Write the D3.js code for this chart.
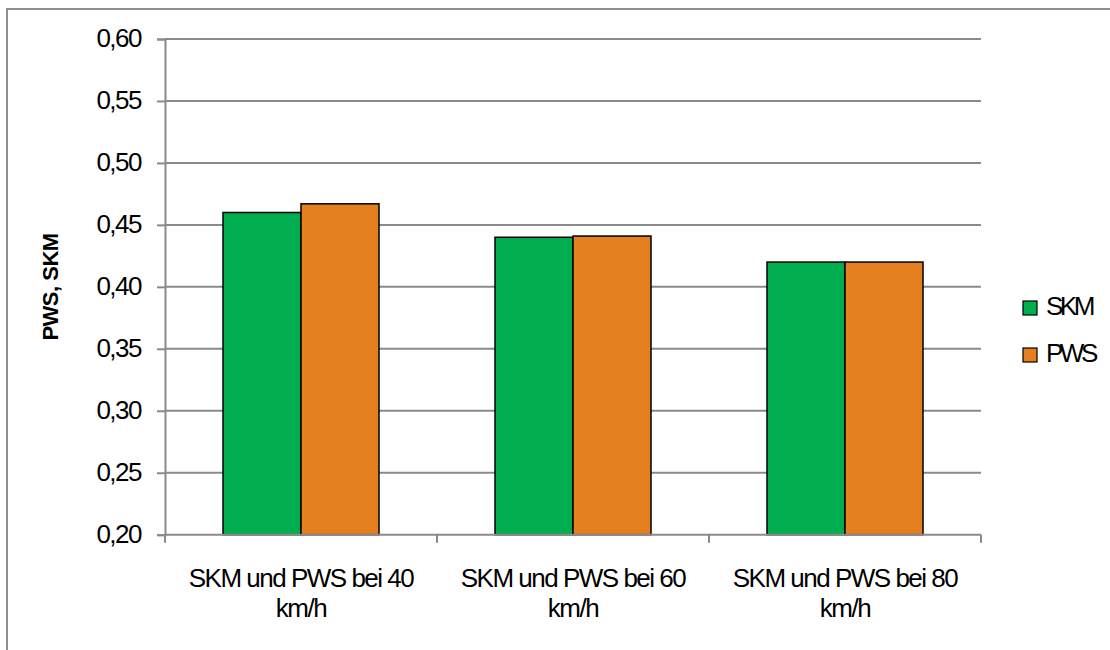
<!DOCTYPE html>
<html>
<head>
<meta charset="utf-8">
<script src="https://cdn.jsdelivr.net/npm/d3@7"></script>
<style>
  html, body { margin: 0; padding: 0; background: #fff; }
  svg { display: block; font-family: "Liberation Sans", Arial, sans-serif; }
</style>
</head>
<body>
<svg id="chart" width="1110" height="650"></svg>
<script>
// Categories (two-line labels) and series values
const categories = ["SKM und PWS bei 40 km/h", "SKM und PWS bei 60 km/h", "SKM und PWS bei 80 km/h"];
const categoryLines = [["SKM und PWS bei 40", "km/h"], ["SKM und PWS bei 60", "km/h"], ["SKM und PWS bei 80", "km/h"]];
const seriesNames = ["SKM", "PWS"];
const skmValues = [0.46, 0.44, 0.42];
const pwsValues = [0.467, 0.441, 0.42];
const yTicks = [0.20, 0.25, 0.30, 0.35, 0.40, 0.45, 0.50, 0.55, 0.60];
const colors = ["#00ae50", "#e4801f"];

const svg = d3.select("#chart");

// outer frame (only top and left edges are inside the canvas)
svg.append("rect")
  .attr("x", 7).attr("y", 9).attr("width", 1200).attr("height", 800)
  .attr("fill", "none").attr("stroke", "#8e8e8e").attr("stroke-width", 2);

const plot = { left: 165, right: 981, top: 39, bottom: 534.7 };

const y = d3.scaleLinear().domain([0.20, 0.60]).range([plot.bottom, plot.top]);
const x0 = d3.scaleBand().domain(categories).range([plot.left, plot.right]).paddingInner(0).paddingOuter(0);
const barW = 78;
const x1 = d3.scaleBand().domain(seriesNames).range([0, barW * 2]);

const fmt = v => d3.format(".2f")(v).replace(".", ",");

// horizontal gridlines
svg.append("g").selectAll("line").data(yTicks.filter(t => t > 0.2)).join("line")
  .attr("x1", plot.left).attr("x2", plot.right)
  .attr("y1", d => y(d)).attr("y2", d => y(d))
  .attr("stroke", "#8a8a8a").attr("stroke-width", 2);

// y axis
const yAxis = svg.append("g").attr("transform", `translate(${plot.left},0)`)
  .call(d3.axisLeft(y).tickValues(yTicks).tickFormat(fmt).tickSize(8).tickPadding(16));
yAxis.attr("font-size", null).attr("font-family", null);
yAxis.select(".domain").attr("stroke", "#8a8a8a").attr("stroke-width", 2);
yAxis.selectAll(".tick line").attr("stroke", "#8a8a8a").attr("stroke-width", 2);
yAxis.selectAll(".tick text")
  .attr("font-size", 26).attr("letter-spacing", -1.5).attr("fill", "#000")
  .attr("dy", "0.3em");

// bars
const groups = svg.append("g").selectAll("g").data(categories).join("g")
  .attr("transform", d => `translate(${x0(d) + x0.bandwidth() / 2 - barW},0)`);
groups.selectAll("rect")
  .data((d, i) => [skmValues[i], pwsValues[i]].map((v, k) => ({ key: seriesNames[k], v, k })))
  .join("rect")
  .attr("x", d => x1(d.key))
  .attr("y", d => y(d.v))
  .attr("width", x1.bandwidth())
  .attr("height", d => y(0.20) - y(d.v))
  .attr("fill", d => colors[d.k])
  .attr("stroke", "#000").attr("stroke-width", 1.5);

// x axis
const xAxis = svg.append("g").attr("transform", `translate(0,${plot.bottom})`);
xAxis.append("line").attr("x1", plot.left).attr("x2", plot.right)
  .attr("stroke", "#8a8a8a").attr("stroke-width", 2);
const boundaries = categories.map(c => x0(c)).concat([plot.right]);
xAxis.selectAll("line.tk").data(boundaries).join("line").attr("class", "tk")
  .attr("x1", d => d).attr("x2", d => d).attr("y1", 0).attr("y2", 8)
  .attr("stroke", "#8a8a8a").attr("stroke-width", 2);

// category labels
const labels = svg.append("g").selectAll("text").data(categories).join("text")
  .attr("text-anchor", "middle")
  .attr("font-size", 26).attr("letter-spacing", -1.5).attr("fill", "#000")
  .attr("x", d => x0(d) + x0.bandwidth() / 2)
  .attr("y", 587);
labels.selectAll("tspan").data((d, i) => categoryLines[i]).join("tspan")
  .attr("x", function () { return d3.select(this.parentNode).attr("x"); })
  .attr("dy", (d, i) => i === 0 ? 0 : 30)
  .text(d => d);

// y axis title
svg.append("text")
  .attr("transform", "translate(58,287) rotate(-90)")
  .attr("text-anchor", "middle")
  .attr("font-size", 22).attr("font-weight", "bold").attr("letter-spacing", -0.5)
  .attr("fill", "#000")
  .text("PWS, SKM");

// legend
const legend = svg.append("g").selectAll("g").data(seriesNames).join("g")
  .attr("transform", (d, i) => `translate(1023,${301 + i * 47})`);
legend.append("rect").attr("width", 14).attr("height", 14)
  .attr("fill", (d, i) => colors[i]).attr("stroke", "#000").attr("stroke-width", 1.2);
legend.append("text").attr("x", 23).attr("y", 14)
  .attr("font-size", 26).attr("letter-spacing", -3.5).attr("fill", "#000")
  .text(d => d);
</script>
</body>
</html>
